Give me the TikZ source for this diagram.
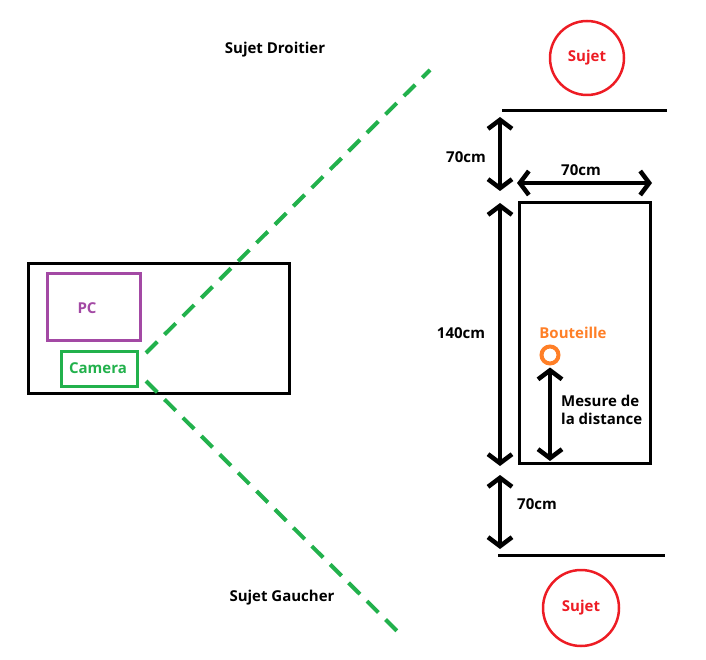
\documentclass[tikz,border=0pt]{standalone}
\usepackage{fontspec}
\setmainfont{Open Sans}
\usetikzlibrary{arrows.meta}
\definecolor{paintred}{RGB}{237,28,36}
\definecolor{paintgreen}{RGB}{34,177,76}
\definecolor{paintpurple}{RGB}{163,73,164}
\definecolor{paintorange}{RGB}{255,127,39}
\tikzset{
  lbl/.style={font=\fontsize{15}{18}\selectfont\bfseries, inner sep=0pt},
  dimarrow/.style={line width=4.5pt, {Straight Barb[length=9pt,width=24pt]}-{Straight Barb[length=9pt,width=24pt]}},
  cone/.style={paintgreen, line width=4pt, dash pattern=on 16pt off 10pt},
  thickline/.style={line width=3pt}
}
\begin{document}
\begin{tikzpicture}[x=1pt, y=-1pt]
  \useasboundingbox (0,0) rectangle (706,660);
  % Desk with the PC and the camera
  \draw [thickline] (28,263) rectangle (289,393);
  \draw [paintpurple, thickline] (47,273) rectangle (140,340);
  \node [lbl, paintpurple] (pc) at (87,308) {PC};
  \draw [paintgreen, thickline] (61,351) rectangle (137,386);
  \node [lbl, paintgreen] (camera) at (98,368) {Camera};
  % Field of view of the camera
  \coordinate (camtop) at (146,353);
  \coordinate (cambot) at (146,381);
  \coordinate (droit) at (430,70);
  \coordinate (gauche) at (403,637);
  \draw [cone] (camtop) -- (droit);
  \draw [cone] (cambot) -- (gauche);
  \node [lbl] (sdroit) at (275,50) {Sujet Droitier};
  \node [lbl] (sgauche) at (282,598) {Sujet Gaucher};

  % The two subjects
  \node [draw=paintred, line width=2.5pt, circle, minimum size=74pt, lbl, text=paintred] (sujettop) at (587,58) {Sujet};
  \node [draw=paintred, line width=2.5pt, circle, minimum size=76pt, lbl, text=paintred] (sujetbot) at (581,608) {Sujet};
  \draw [thickline] (502,111) -- (667,111);
  \draw [thickline] (498,555) -- (665,555);

  % Table
  \draw [thickline] (519,203) rectangle (650,463);

  % Distances
  \coordinate (a1) at (500,117);
  \coordinate (a2) at (500,191);
  \coordinate (b1) at (500,203);
  \coordinate (b2) at (500,466);
  \coordinate (c1) at (500,475);
  \coordinate (c2) at (500,549);
  \coordinate (h1) at (517,183);
  \coordinate (h2) at (652,183);
  \draw [dimarrow] (a1) -- (a2);
  \draw [dimarrow] (b1) -- (b2);
  \draw [dimarrow] (c1) -- (c2);
  \draw [dimarrow] (h1) -- (h2);
  \node [lbl] (l70a) at (466,157) {70cm};
  \node [lbl] (l140) at (461,333) {140cm};
  \node [lbl] (l70c) at (537,504) {70cm};
  \node [lbl] (l70h) at (581,170) {70cm};

  % The bottle and the measured distance
  \node [draw=paintorange, line width=4pt, circle, minimum size=17pt, inner sep=0pt] (bouteille) at (550,355) {};
  \node [lbl, paintorange] (lbout) at (573,333) {Bouteille};
  \coordinate (m2) at (550,461);
  \draw [dimarrow] (bouteille.south) ++(0,2) -- (m2);
  \node [lbl, align=left, anchor=west] (lmesure) at (561,410) {Mesure de\\la distance};
\end{tikzpicture}
\end{document}
